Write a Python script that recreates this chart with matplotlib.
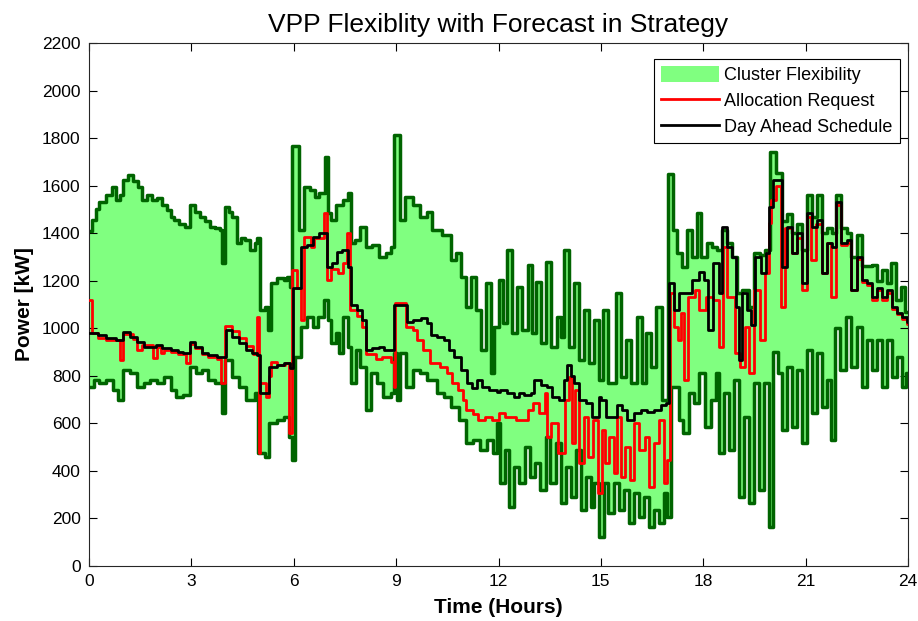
import numpy as np
import matplotlib
matplotlib.use("Agg")
import matplotlib.pyplot as plt
from matplotlib.patches import Patch
from matplotlib.lines import Line2D

plt.rcParams['font.family'] = ['Liberation Sans', 'DejaVu Sans']

# ---- data (hours, kW), step breakpoints ----
upper_t = [0.0, 0.1, 0.2, 0.3, 0.5, 0.67, 0.8, 0.9, 1.0, 1.15, 1.3, 1.43, 1.55, 1.7, 1.85, 2.0, 2.15, 2.3, 2.4, 2.5,
           2.65, 2.8, 2.96, 3.1, 3.25, 3.4, 3.55, 3.7, 3.84, 3.9, 3.98, 4.1, 4.19, 4.33, 4.45, 4.57, 4.72, 4.85, 4.92, 5.0,
           5.15, 5.25, 5.32, 5.5, 5.7, 5.8, 5.88, 5.95, 6.15, 6.3, 6.48, 6.62, 6.75, 6.93, 7.0, 7.1, 7.25, 7.45, 7.58, 7.68,
           7.8, 7.95, 8.12, 8.3, 8.5, 8.7, 8.85, 8.95, 9.1, 9.25, 9.5, 9.7, 9.9, 10.05, 10.35, 10.6, 10.75, 10.9, 11.05, 11.2,
           11.35, 11.5, 11.62, 11.78, 11.88, 12.0, 12.12, 12.25, 12.4, 12.55, 12.7, 12.85, 12.98, 13.1, 13.25, 13.4, 13.55, 13.7, 13.83, 13.93,
           14.07, 14.22, 14.37, 14.5, 14.65, 14.8, 14.95, 15.05, 15.22, 15.45, 15.6, 15.75, 15.88, 16.05, 16.2, 16.33, 16.47, 16.62, 16.78, 16.96,
           17.1, 17.23, 17.37, 17.52, 17.66, 17.82, 17.93, 18.1, 18.25, 18.4, 18.55, 18.7, 18.85, 19.0, 19.13, 19.33, 19.5, 19.65, 19.8, 19.97,
           20.12, 20.3, 20.45, 20.6, 20.75, 20.9, 21.03, 21.18, 21.33, 21.48, 21.62, 21.77, 21.9, 22.05, 22.2, 22.33, 22.5, 22.65, 22.8, 22.95,
           23.1, 23.25, 23.38, 23.5, 23.65, 23.8, 23.92]
upper_v = [1410, 1455, 1500, 1530, 1560, 1594, 1540, 1560, 1624, 1645, 1620, 1594, 1540, 1560, 1540, 1548, 1520, 1497, 1470, 1455,
           1440, 1426, 1518, 1490, 1468, 1450, 1426, 1420, 1413, 1275, 1510, 1490, 1468, 1359, 1380, 1371, 1329, 1360, 1380, 1077,
           1090, 993, 1190, 1211, 1203, 1215, 1174, 1765, 1413, 1594, 1582, 1552, 1569, 1721, 1485, 1455, 1518, 1540, 1569, 1359,
           1371, 1426, 1342, 1350, 1300, 1317, 1342, 1813, 1455, 1552, 1518, 1468, 1489, 1413, 1392, 1287, 1317, 1216, 1090, 1216,
           1077, 909, 1190, 812, 1005, 1203, 1022, 1329, 980, 1174, 993, 1266, 980, 1195, 938, 1279, 921, 1048, 963, 1329,
           921, 1190, 867, 1077, 854, 1035, 782, 1077, 770, 1148, 795, 951, 770, 1048, 770, 980, 837, 1090, 698, 1650,
           1413, 1317, 1258, 1413, 1300, 1485, 1300, 1359, 1342, 1329, 1413, 1359, 1300, 1148, 1161, 1090, 1317, 1308, 1329, 1740,
           1653, 1450, 1480, 1400, 1440, 1330, 1560, 1470, 1560, 1400, 1420, 1400, 1560, 1420, 1400, 1300, 1392, 1260, 1260, 1266,
           1200, 1245, 1190, 1275, 1120, 1174, 1070]

lower_t = [0.0, 0.15, 0.3, 0.5, 0.7, 0.85, 1.0, 1.2, 1.4, 1.6, 1.8, 2.0, 2.2, 2.4, 2.55, 2.75, 2.96, 3.15, 3.3, 3.5,
           3.7, 3.9, 3.98, 4.2, 4.4, 4.6, 4.85, 4.95, 5.15, 5.28, 5.5, 5.7, 5.85, 5.95, 6.05, 6.2, 6.38, 6.55, 6.72, 6.88,
           7.0, 7.1, 7.25, 7.33, 7.45, 7.58, 7.68, 7.82, 7.95, 8.12, 8.25, 8.45, 8.62, 8.85, 8.95, 9.02, 9.1, 9.3, 9.5, 9.7,
           9.9, 10.2, 10.4, 10.6, 10.85, 11.05, 11.25, 11.45, 11.65, 11.85, 11.95, 12.05, 12.2, 12.3, 12.45, 12.6, 12.78, 12.93, 13.08, 13.22,
           13.38, 13.52, 13.68, 13.82, 13.97, 14.12, 14.27, 14.42, 14.57, 14.7, 14.8, 14.95, 15.08, 15.22, 15.38, 15.52, 15.68, 15.82, 15.97, 16.12,
           16.26, 16.4, 16.55, 16.7, 16.85, 16.95, 17.05, 17.28, 17.42, 17.57, 17.72, 17.87, 18.05, 18.22, 18.37, 18.46, 18.6, 18.75, 18.9, 19.05,
           19.18, 19.33, 19.48, 19.62, 19.77, 19.93, 20.05, 20.2, 20.32, 20.45, 20.6, 20.75, 20.9, 21.03, 21.18, 21.33, 21.48, 21.62, 21.75, 21.85,
           22.0, 22.18, 22.32, 22.5, 22.65, 22.8, 22.95, 23.1, 23.25, 23.38, 23.52, 23.68, 23.82, 23.95]
lower_v = [753, 782, 770, 782, 740, 698, 825, 812, 753, 770, 782, 770, 795, 740, 711, 719, 837, 812, 825, 782,
           770, 644, 867, 795, 753, 698, 728, 475, 459, 602, 614, 627, 543, 445, 879, 1005, 1048, 1005, 1048, 1119,
           1035, 938, 980, 896, 1048, 921, 770, 909, 837, 656, 812, 770, 711, 728, 896, 700, 896, 753, 825, 812,
           782, 728, 711, 669, 614, 517, 530, 488, 530, 475, 602, 349, 488, 248, 417, 349, 501, 374, 433, 320,
           543, 349, 517, 265, 417, 290, 488, 236, 374, 248, 349, 122, 349, 223, 349, 236, 320, 181, 307, 206,
           290, 164, 236, 181, 307, 206, 753, 614, 560, 728, 686, 812, 585, 698, 812, 475, 728, 488, 782, 290,
           627, 265, 770, 320, 770, 164, 900, 812, 572, 837, 585, 825, 517, 909, 644, 896, 669, 782, 530, 1000,
           825, 1048, 837, 1005, 753, 951, 825, 951, 753, 951, 795, 879, 753, 812]

request_t = [0.0, 0.08, 0.25, 0.5, 0.9, 1.0, 1.3, 1.4, 1.55, 1.88, 1.98, 2.1, 2.2, 2.4, 2.6, 2.85, 2.95, 3.1, 3.3, 3.5,
             3.75, 3.88, 3.98, 4.2, 4.4, 4.6, 4.8, 4.93, 4.97, 5.02, 5.2, 5.28, 5.32, 5.5, 5.75, 5.86, 5.95, 6.1, 6.22, 6.3,
             6.5, 6.6, 6.88, 6.98, 7.1, 7.3, 7.45, 7.55, 7.66, 7.85, 8.0, 8.13, 8.4, 8.6, 8.85, 8.93, 8.98, 9.3, 9.5, 9.6,
             9.8, 10.0, 10.3, 10.5, 10.65, 10.8, 10.95, 11.05, 11.25, 11.4, 11.6, 11.8, 12.0, 12.2, 12.5, 12.85, 13.0, 13.2, 13.35, 13.42,
             13.55, 13.75, 13.95, 14.08, 14.15, 14.25, 14.35, 14.5, 14.63, 14.78, 14.92, 15.03, 15.13, 15.25, 15.38, 15.48, 15.6, 15.7, 15.85, 15.98,
             16.12, 16.28, 16.42, 16.55, 16.7, 16.85, 16.95, 17.03, 17.15, 17.25, 17.35, 17.45, 17.55, 17.75, 17.88, 18.08, 18.28, 18.45, 18.58, 18.7,
             18.92, 19.08, 19.22, 19.35, 19.5, 19.65, 19.8, 19.93, 19.99, 20.12, 20.28, 20.4, 20.6, 20.75, 20.9, 21.03, 21.15, 21.3, 21.48, 21.62,
             21.75, 21.9, 22.05, 22.2, 22.33, 22.5, 22.65, 22.8, 22.95, 23.1, 23.25, 23.38, 23.53, 23.68, 23.83, 23.97]
request_v = [1119, 980, 960, 950, 867, 975, 955, 909, 930, 875, 920, 895, 910, 900, 890, 854, 935, 915, 890, 880,
             870, 770, 1010, 990, 960, 925, 890, 1048, 475, 770, 711, 800, 860, 846, 854, 560, 1245, 1170, 1035, 1384,
             1342, 1380, 1485, 1203, 1250, 1233, 1275, 1401, 1077, 1050, 1005, 890, 870, 880, 860, 753, 1106, 1005, 993, 950,
             909, 854, 837, 812, 770, 740, 698, 656, 640, 614, 627, 614, 644, 627, 614, 656, 686, 644, 728, 543,
             602, 475, 698, 795, 517, 740, 433, 627, 459, 614, 307, 572, 433, 543, 391, 627, 374, 501, 362, 602,
             488, 543, 332, 517, 614, 349, 446, 1148, 1005, 951, 1064, 782, 1132, 1161, 1077, 1132, 1119, 921, 1342, 1132,
             896, 837, 1005, 812, 1161, 951, 1233, 1443, 1540, 1600, 1090, 1420, 1317, 1380, 1161, 1470, 1287, 1440, 1233, 1359,
             1132, 1520, 1350, 1360, 1161, 1290, 1195, 1180, 1120, 1160, 1120, 1150, 1080, 1060, 1040, 1020]

schedule_t = [0.0, 0.25, 0.5, 0.8, 1.0, 1.2, 1.4, 1.6, 1.95, 2.15, 2.4, 2.6, 2.75, 2.95, 3.1, 3.3, 3.5, 3.75, 4.0, 4.2,
              4.4, 4.6, 4.78, 4.92, 5.0, 5.28, 5.5, 5.72, 5.88, 5.97, 6.22, 6.4, 6.55, 6.75, 6.98, 7.12, 7.28, 7.42, 7.58, 7.68,
              7.85, 8.0, 8.13, 8.3, 8.5, 8.65, 8.95, 9.32, 9.5, 9.72, 9.9, 10.02, 10.2, 10.4, 10.55, 10.7, 10.9, 11.07, 11.22, 11.37,
              11.52, 11.72, 11.95, 12.05, 12.25, 12.45, 12.6, 12.75, 12.95, 13.05, 13.25, 13.42, 13.57, 13.78, 13.93, 14.02, 14.12, 14.22, 14.36, 14.57,
              14.74, 14.94, 15.0, 15.15, 15.48, 15.62, 15.78, 15.97, 16.17, 16.35, 16.56, 16.77, 16.92, 17.0, 17.15, 17.3, 17.5, 17.66, 17.88, 18.02,
              18.15, 18.3, 18.45, 18.55, 18.7, 18.85, 18.96, 19.05, 19.13, 19.28, 19.4, 19.53, 19.68, 19.84, 19.94, 20.05, 20.3, 20.45, 20.6, 20.75,
              20.9, 21.03, 21.18, 21.33, 21.48, 21.62, 21.77, 21.9, 22.05, 22.2, 22.33, 22.5, 22.65, 22.8, 22.95, 23.1, 23.25, 23.38, 23.53, 23.68,
              23.83, 23.97]
schedule_v = [980, 972, 959, 951, 985, 963, 942, 921, 930, 917, 909, 900, 896, 942, 921, 896, 888, 879, 993, 963,
              938, 909, 896, 888, 728, 837, 846, 854, 833, 1170, 1342, 1350, 1384, 1401, 1258, 1275, 1321, 1329, 1258, 1098,
              1077, 1035, 909, 917, 921, 909, 1098, 1026, 1035, 1043, 1022, 972, 963, 951, 909, 879, 825, 770, 749, 782,
              753, 740, 732, 740, 728, 711, 728, 719, 728, 782, 761, 753, 711, 698, 782, 846, 800, 770, 698, 686,
              627, 711, 698, 627, 677, 656, 614, 644, 656, 648, 656, 677, 686, 1190, 1077, 1148, 1148, 1203, 1237, 1203,
              993, 1275, 1148, 1426, 1342, 1300, 1090, 867, 1148, 1077, 1014, 1300, 1233, 1317, 1510, 1624, 1258, 1426, 1317, 1401,
              1190, 1485, 1426, 1455, 1233, 1359, 1342, 1531, 1359, 1371, 1161, 1300, 1203, 1190, 1132, 1170, 1132, 1161, 1090, 1064,
              1048, 1026]

x_ticks = [0, 3, 6, 9, 12, 15, 18, 21, 24]
y_ticks = list(range(0, 2201, 200))


def stepped(t, v, t_end=24.0):
    t = np.asarray(t + [t_end], float)
    v = np.asarray(v + [v[-1]], float)
    return t, v


def step_eval(t, v, grid):
    t = np.asarray(t, float)
    v = np.asarray(v, float)
    idx = np.clip(np.searchsorted(t, grid, side='right') - 1, 0, len(v) - 1)
    return v[idx]


fig = plt.figure(figsize=(9.18, 6.21), dpi=100)
ax = fig.add_axes([89 / 918, 1 - 566 / 621, (908 - 89) / 918, (566 - 43) / 621])

grid = np.unique(np.concatenate([upper_t, lower_t, [24.0]]))
up_g = step_eval(upper_t, upper_v, grid)
lo_g = step_eval(lower_t, lower_v, grid)
ax.fill_between(grid, lo_g, up_g, step='post', facecolor='#80ff80', edgecolor='none', zorder=1)

ut, uv = stepped(upper_t, upper_v)
lt, lv = stepped(lower_t, lower_v)
ax.plot(ut, uv, drawstyle='steps-post', color='#006400', lw=2.5, zorder=2)
ax.plot(lt, lv, drawstyle='steps-post', color='#006400', lw=2.5, zorder=2)

rt, rv = stepped(request_t, request_v)
ax.plot(rt, rv, drawstyle='steps-post', color='#ff0000', lw=2.0, zorder=3)
st, sv = stepped(schedule_t, schedule_v)
ax.plot(st, sv, drawstyle='steps-post', color='black', lw=2.0, zorder=4)

ax.set_xlim(0, 24)
ax.set_ylim(0, 2200)
ax.set_xticks(x_ticks)
ax.set_yticks(y_ticks)
ax.tick_params(direction='in', top=True, right=True, labelsize=12.5, length=6, width=0.8, pad=6)
for s in ax.spines.values():
    s.set_linewidth(0.8)
    s.set_color('#262626')

ax.set_title('VPP Flexiblity with Forecast in Strategy', fontsize=19, pad=8)
ax.set_xlabel('Time (Hours)', fontsize=15, fontweight='bold', labelpad=6)
ax.set_ylabel('Power [kW]', fontsize=15, fontweight='bold', labelpad=6)

handles = [Patch(facecolor='#80ff80', edgecolor='none', label='Cluster Flexibility'),
           Line2D([], [], color='#ff0000', lw=2.0, label='Allocation Request'),
           Line2D([], [], color='black', lw=2.0, label='Day Ahead Schedule')]
leg = ax.legend(handles=handles, loc='upper right', bbox_to_anchor=(0.99, 0.97), fontsize=13,
                fancybox=False, framealpha=1, edgecolor='black', borderpad=0.4, labelspacing=0.42,
                handlelength=3.2, handleheight=1.0, handletextpad=0.3, borderaxespad=0.0)
leg.get_frame().set_linewidth(0.8)

fig.savefig('out.png', dpi=100)
